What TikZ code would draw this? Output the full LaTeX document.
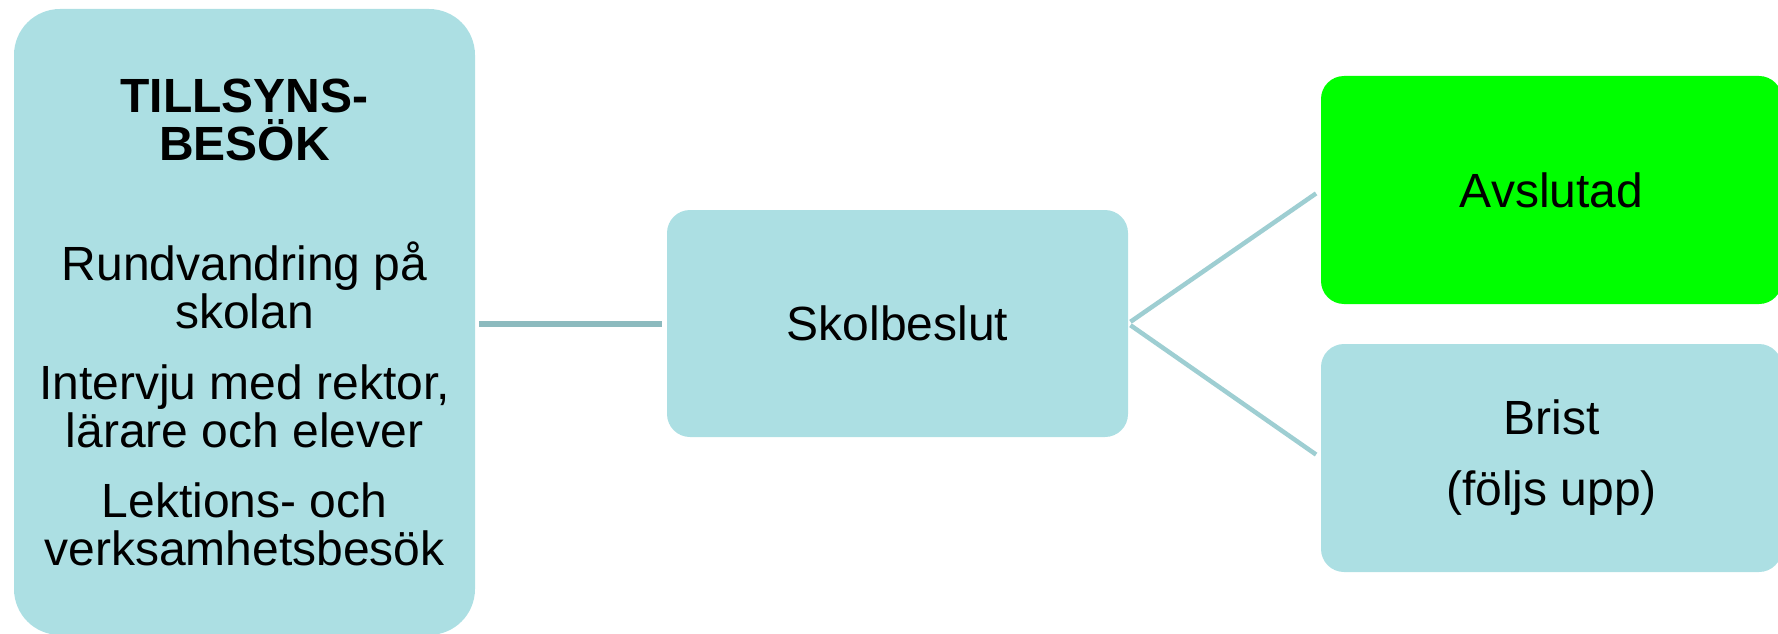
\documentclass[tikz,border=0pt]{standalone}
\usepackage{fontspec}
\setmainfont{Liberation Sans}
\usetikzlibrary{positioning}
\definecolor{boxfill}{HTML}{ACDFE3}
\definecolor{donefill}{HTML}{00FF00}
\definecolor{linkdark}{HTML}{8CBABE}
\definecolor{linklight}{HTML}{9ECED2}
\begin{document}
\begin{tikzpicture}[x=1pt, y=-1pt, box/.style={rectangle,fill=boxfill,rounded corners=23pt,minimum width=461pt,minimum height=228pt,inner sep=0pt,outer sep=0pt,align=center,font=\fontsize{48}{48}\selectfont}, link/.style={line width=6pt,draw=linkdark}, branch/.style={line width=4.5pt,draw=linklight}]
\useasboundingbox (0,0) rectangle (1778,634);
\begin{scope}
\node[box, minimum height=626pt, rounded corners=46pt] (besok) at (244.5,322) {\textbf{TILLSYNS-}\\\textbf{BESÖK}\\[72pt]Rundvandring på\\skolan\\[23pt]Intervju med rektor,\\lärare och elever\\[22pt]Lektions- och\\verksamhetsbesök};
\node[box, minimum height=227pt] (skol) at (897.5,323.5) {Skolbeslut};
\node[box, fill=donefill] (avsl) at (1551.5,190) {Avslutad};
\node[box] (brist) at (1551.5,458) {Brist\\[23pt](följs upp)};
%\node[box] () at (,) {};
\end{scope}
\begin{scope}
\draw[link, shorten <=4pt, shorten >=5pt] (skol.west -| besok.east) -- (skol.west);
\draw[branch, shorten <=3pt, shorten >=6pt] (skol.east) -- (avsl.west);
\draw[branch, shorten <=3pt, shorten >=6pt] (skol.east) -- (brist.west);
%\draw () -- ();
\end{scope}
\end{tikzpicture}
\end{document}
